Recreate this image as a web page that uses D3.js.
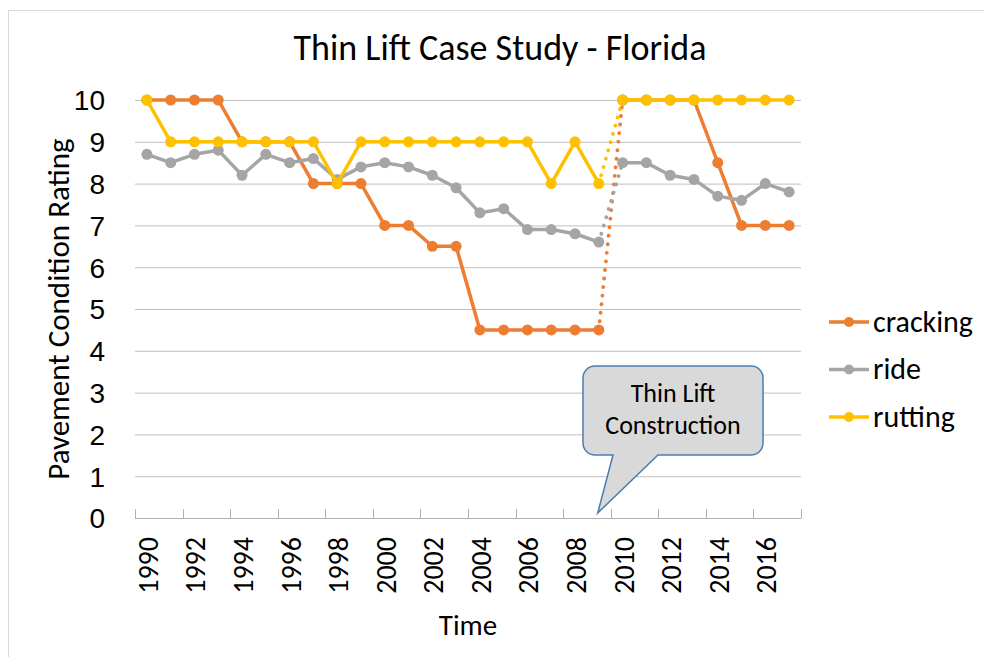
<!DOCTYPE html>
<html>
<head>
<meta charset="utf-8">
<script src="https://cdn.jsdelivr.net/npm/d3@7"></script>
<style>
  body { margin: 0; background: #fff; }
  svg { display: block; font-family: Carlito, Lato, "Noto Sans", sans-serif; }
  .grid line { stroke: #c0c0c0; stroke-width: 1; }
  .grid path { display: none; }
  .xaxis path, .xaxis line { stroke: #b0b0b0; }
</style>
</head>
<body>
<script>
// Step 1: data
//= ================================
var years = d3.range(1990, 2018);
var cracking = [10, 10, 10, 10, 9, 9, 9, 8, 8, 8, 7, 7, 6.5, 6.5, 4.5, 4.5, 4.5, 4.5, 4.5, 4.5,
                10, 10, 10, 10, 8.5, 7, 7, 7];
var ride = [8.7, 8.5, 8.7, 8.8, 8.2, 8.7, 8.5, 8.6, 8.1, 8.4, 8.5, 8.4, 8.2, 7.9, 7.3, 7.4, 6.9, 6.9, 6.8, 6.6,
            8.5, 8.5, 8.2, 8.1, 7.7, 7.6, 8.0, 7.8];
var rutting = [10, 9, 9, 9, 9, 9, 9, 9, 8, 9, 9, 9, 9, 9, 9, 9, 9, 8, 9, 8,
               10, 10, 10, 10, 10, 10, 10, 10];
var seriesNames = ["cracking", "ride", "rutting"];
var seriesColors = ["#ED7D31", "#A5A5A5", "#FFC000"];
var yTicks = d3.range(0, 11);
var xTickLabels = years.filter(function (y) { return y % 2 === 0; });
// the segment leading into this year is drawn dotted
var constructionYear = 2010;
var calloutText = ["Thin Lift", "Construction"];

// Step 2: chart setup
//= ================================
var svgWidth = 984;
var svgHeight = 657;
var margin = { top: 100, right: 183, bottom: 139, left: 135 };
var chartWidth = svgWidth - margin.left - margin.right;
var chartHeight = svgHeight - margin.top - margin.bottom;

var svg = d3.select("body")
    .append("svg")
    .attr("width", svgWidth)
    .attr("height", svgHeight);

// chart area border (cut off on the right and bottom in the original)
svg.append("rect")
    .attr("x", 8.5)
    .attr("y", 10.5)
    .attr("width", 1000)
    .attr("height", 700)
    .attr("fill", "#fff")
    .attr("stroke", "#d9d9d9");

var chartGroup = svg.append("g")
    .attr("transform", `translate(${margin.left}, ${margin.top})`);

var xScale = d3.scaleBand()
    .domain(years)
    .range([0, chartWidth])
    .padding(0);

var yScale = d3.scaleLinear()
    .domain([0, 10])
    .range([chartHeight, 0]);

function xc(year) { return xScale(year) + xScale.bandwidth() / 2; }

// Step 3: gridlines and axes
//= ================================
chartGroup.append("g")
    .classed("grid", true)
    .call(d3.axisLeft(yScale).tickValues(yTicks.slice(1)).tickSize(-chartWidth).tickFormat(""));

var yAxis = chartGroup.append("g")
    .call(d3.axisLeft(yScale).tickValues(yTicks).tickSize(0).tickPadding(30));
yAxis.select(".domain").remove();
yAxis.selectAll("text")
    .attr("font-family", null)
    .style("font-size", "28px")
    .attr("fill", "#000")
    .attr("dy", "0.35em");

// x axis: tick marks between every second category, pointing up
var boundaries = d3.range(0, years.length + 1, 2).map(function (i) { return i * xScale.step(); });
var xAxis = chartGroup.append("g")
    .classed("xaxis", true)
    .attr("transform", `translate(0, ${chartHeight})`);
xAxis.append("line")
    .attr("x1", 0).attr("x2", chartWidth)
    .attr("y1", 0.5).attr("y2", 0.5);
xAxis.selectAll(".tickmark")
    .data(boundaries)
    .enter()
    .append("line")
    .classed("tickmark", true)
    .attr("x1", d => Math.round(d) + 0.5)
    .attr("x2", d => Math.round(d) + 0.5)
    .attr("y1", -9)
    .attr("y2", 0.5);
xAxis.selectAll(".xlabel")
    .data(xTickLabels)
    .enter()
    .append("text")
    .classed("xlabel", true)
    .attr("transform", d => `translate(${xc(d) + 11}, 19) rotate(-90)`)
    .attr("text-anchor", "end")
    .style("font-size", "28px")
    .text(d => d);

// Step 4: lines and markers
//= ================================
var seriesData = [cracking, ride, rutting];

seriesData.forEach(function (values, s) {
    var pts = years.map(function (y, i) { return { year: y, value: values[i] }; });
    var g = chartGroup.append("g");

    var segments = d3.pairs(pts);
    g.selectAll(".seg")
        .data(segments)
        .enter()
        .append("line")
        .classed("seg", true)
        .attr("x1", d => xc(d[0].year))
        .attr("y1", d => yScale(d[0].value))
        .attr("x2", d => xc(d[1].year))
        .attr("y2", d => yScale(d[1].value))
        .attr("stroke", seriesColors[s])
        .attr("stroke-linecap", "round")
        .attr("stroke-width", d => d[1].year === constructionYear ? 3.8 : 3.5)
        .attr("stroke-dasharray", d => d[1].year === constructionYear ? "0.1 8.5" : null);

    g.selectAll("circle")
        .data(pts)
        .enter()
        .append("circle")
        .attr("cx", d => xc(d.year))
        .attr("cy", d => yScale(d.value))
        .attr("r", 5.5)
        .attr("fill", seriesColors[s]);
});

// Step 5: titles, legend, callout
//= ================================
svg.append("text")
    .attr("x", 500)
    .attr("y", 60)
    .attr("text-anchor", "middle")
    .style("font-size", "36px")
    .text("Thin Lift Case Study - Florida");

svg.append("text")
    .attr("transform", `translate(69, ${margin.top + chartHeight / 2}) rotate(-90)`)
    .attr("text-anchor", "middle")
    .style("font-size", "31px")
    .text("Pavement Condition Rating");

svg.append("text")
    .attr("x", 468)
    .attr("y", 635)
    .attr("text-anchor", "middle")
    .style("font-size", "29px")
    .text("Time");

var legend = svg.append("g")
    .attr("transform", "translate(829, 322)");
seriesNames.forEach(function (name, i) {
    var row = legend.append("g").attr("transform", `translate(0, ${i * 47.5})`);
    row.append("line")
        .attr("x1", 0).attr("x2", 40)
        .attr("stroke", seriesColors[i])
        .attr("stroke-width", 3.5);
    row.append("circle")
        .attr("cx", 20).attr("r", 5)
        .attr("fill", seriesColors[i]);
    row.append("text")
        .attr("x", 44)
        .attr("dy", "0.33em")
        .style("font-size", "30px")
        .text(name);
});

// speech-bubble callout pointing at the construction year
var box = { x: 583, y: 366, w: 180, h: 89, r: 12 };
var tip = [xScale(constructionYear) + margin.left - 13, margin.top + chartHeight - 5];
var p = d3.path();
p.moveTo(box.x + box.r, box.y);
p.lineTo(box.x + box.w - box.r, box.y);
p.arcTo(box.x + box.w, box.y, box.x + box.w, box.y + box.r, box.r);
p.lineTo(box.x + box.w, box.y + box.h - box.r);
p.arcTo(box.x + box.w, box.y + box.h, box.x + box.w - box.r, box.y + box.h, box.r);
p.lineTo(box.x + 75, box.y + box.h);
p.lineTo(tip[0], tip[1]);
p.lineTo(box.x + 30, box.y + box.h);
p.lineTo(box.x + box.r, box.y + box.h);
p.arcTo(box.x, box.y + box.h, box.x, box.y + box.h - box.r, box.r);
p.lineTo(box.x, box.y + box.r);
p.arcTo(box.x, box.y, box.x + box.r, box.y, box.r);
p.closePath();

svg.append("path")
    .attr("d", p.toString())
    .attr("fill", "#d9d9d9")
    .attr("stroke", "#4a7eb0")
    .attr("stroke-width", 1.5);

svg.selectAll(".callout")
    .data(calloutText)
    .enter()
    .append("text")
    .classed("callout", true)
    .attr("x", box.x + box.w / 2)
    .attr("y", (d, i) => 402 + i * 32)
    .attr("text-anchor", "middle")
    .style("font-size", "26px")
    .text(d => d);
</script>
</body>
</html>
